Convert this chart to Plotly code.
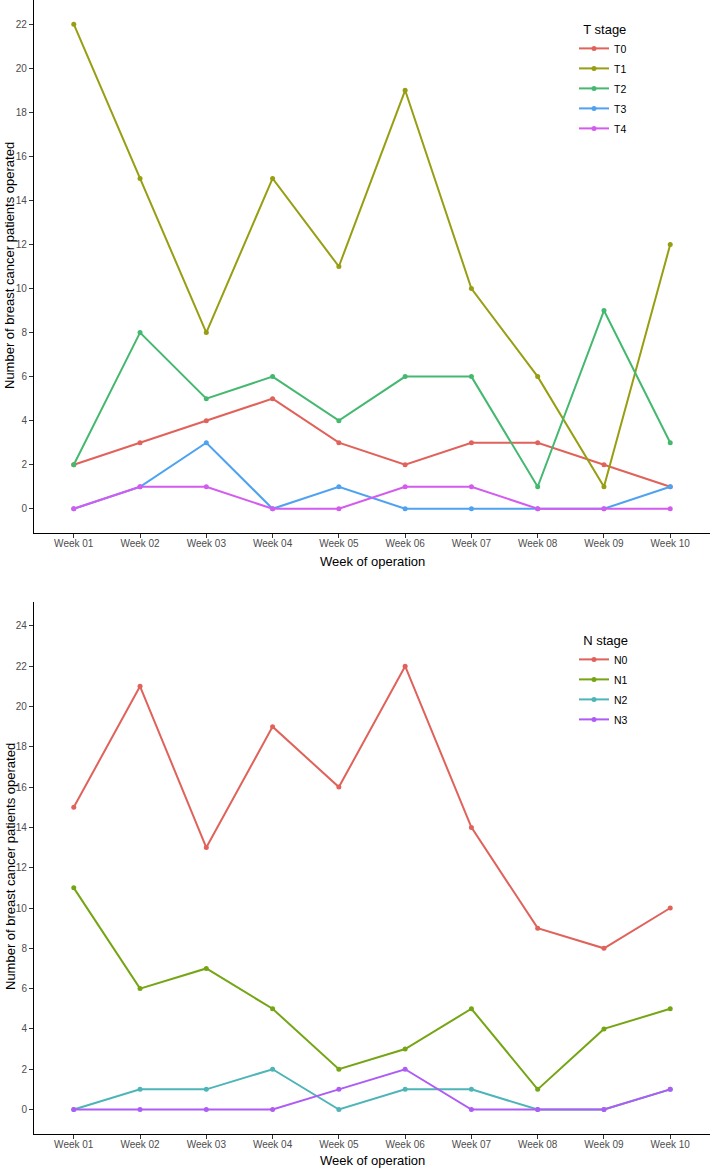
import plotly.graph_objects as go

weeks = ["Week 01", "Week 02", "Week 03", "Week 04", "Week 05",
         "Week 06", "Week 07", "Week 08", "Week 09", "Week 10"]

t_names = ["T0", "T1", "T2", "T3", "T4"]
t0 = [2, 3, 4, 5, 3, 2, 3, 3, 2, 1]
t1 = [22, 15, 8, 15, 11, 19, 10, 6, 1, 12]
t2 = [2, 8, 5, 6, 4, 6, 6, 1, 9, 3]
t3 = [0, 1, 3, 0, 1, 0, 0, 0, 0, 1]
t4 = [0, 1, 1, 0, 0, 1, 1, 0, 0, 0]
t_colors = ["#E0625A", "#979E12", "#45B870", "#4FA2F2", "#D35BF0"]

n_names = ["N0", "N1", "N2", "N3"]
n0 = [15, 21, 13, 19, 16, 22, 14, 9, 8, 10]
n1 = [11, 6, 7, 5, 2, 3, 5, 1, 4, 5]
n2 = [0, 1, 1, 2, 0, 1, 1, 0, 0, 1]
n3 = [0, 0, 0, 0, 1, 2, 0, 0, 0, 1]
n_colors = ["#E0625A", "#75A514", "#4DB5B8", "#AE5CF5"]

top_ticks = list(range(0, 23, 2))
bottom_ticks = list(range(0, 25, 2))

FONT = "Liberation Sans, Arial, sans-serif"
W, H = 711, 1168
L, R = 34, 1

fig = go.Figure()

for name, vals, col in zip(t_names, [t0, t1, t2, t3, t4], t_colors):
    fig.add_trace(go.Scatter(x=weeks, y=vals, name=name, mode="lines+markers",
                             line=dict(color=col, width=2),
                             marker=dict(color=col, size=5),
                             legendgroup=name,
                             xaxis="x", yaxis="y", legend="legend"))

for name, vals, col in zip(n_names, [n0, n1, n2, n3], n_colors):
    fig.add_trace(go.Scatter(x=weeks, y=vals, name=name, mode="lines+markers",
                             line=dict(color=col, width=2),
                             marker=dict(color=col, size=5),
                             legendgroup=name,
                             xaxis="x2", yaxis="y2", legend="legend2"))

def py(pix):
    return 1 - pix / H

top_dom = [py(533), py(0)]
bot_dom = [py(1133.7), py(601.7)]

axis_common = dict(showline=True, linecolor="black", linewidth=1.1,
                   ticks="outside", ticklen=4, tickcolor="#333333", tickwidth=1,
                   showgrid=False, zeroline=False,
                   tickfont=dict(family=FONT, size=10, color="#4D4D4D"))

xaxis_common = dict(type="category", categoryorder="array", categoryarray=weeks,
                    range=[-0.6, 9.6], domain=[0, 1], automargin=False,
                    ticklabelstandoff=-3, **axis_common)

legend_common = dict(x=(574 - L) / (W - L - R), xanchor="left", yanchor="top",
                     font=dict(family=FONT, size=10.5, color="black"),
                     bgcolor="rgba(0,0,0,0)", tracegroupgap=1)

fig.update_layout(
    width=W, height=H,
    margin=dict(l=L, r=R, t=0, b=0, autoexpand=False),
    plot_bgcolor="white", paper_bgcolor="white",
    font=dict(family=FONT),
    xaxis=dict(anchor="y", **xaxis_common),
    yaxis=dict(range=[-1.1, 23.1], tickvals=top_ticks, domain=top_dom,
               anchor="x", automargin=False, **axis_common),
    xaxis2=dict(anchor="y2", **xaxis_common),
    yaxis2=dict(range=[-1.2, 25.2], tickvals=bottom_ticks, domain=bot_dom,
                anchor="x2", automargin=False, **axis_common),
    legend=dict(y=py(17),
                title=dict(text="\u00a0\u00a0T stage",
                           font=dict(family=FONT, size=13, color="black")),
                **legend_common),
    legend2=dict(y=py(628),
                 title=dict(text="\u00a0\u00a0N stage",
                            font=dict(family=FONT, size=13, color="black")),
                 **legend_common),
    showlegend=True,
)

def px_x(pix):
    return (pix - L) / (W - L - R)

annotations = [
    dict(text="Week of operation", x=px_x(372), y=py(561), xref="paper", yref="paper",
         showarrow=False, font=dict(family=FONT, size=13, color="black"),
         xanchor="center", yanchor="middle"),
    dict(text="Week of operation", x=px_x(372), y=py(1160), xref="paper", yref="paper",
         showarrow=False, font=dict(family=FONT, size=13, color="black"),
         xanchor="center", yanchor="middle"),
    dict(text="Number of breast cancer patients operated", x=px_x(10), y=py(266),
         xref="paper", yref="paper", showarrow=False, textangle=-90,
         font=dict(family=FONT, size=13, color="black"),
         xanchor="center", yanchor="middle"),
    dict(text="Number of breast cancer patients operated", x=px_x(10), y=py(867),
         xref="paper", yref="paper", showarrow=False, textangle=-90,
         font=dict(family=FONT, size=13, color="black"),
         xanchor="center", yanchor="middle"),
]
fig.update_layout(annotations=annotations)

fig.write_html("out.html", config={"displayModeBar": False},
               post_script="document.body.style.margin='0';document.body.style.overflow='hidden';")
